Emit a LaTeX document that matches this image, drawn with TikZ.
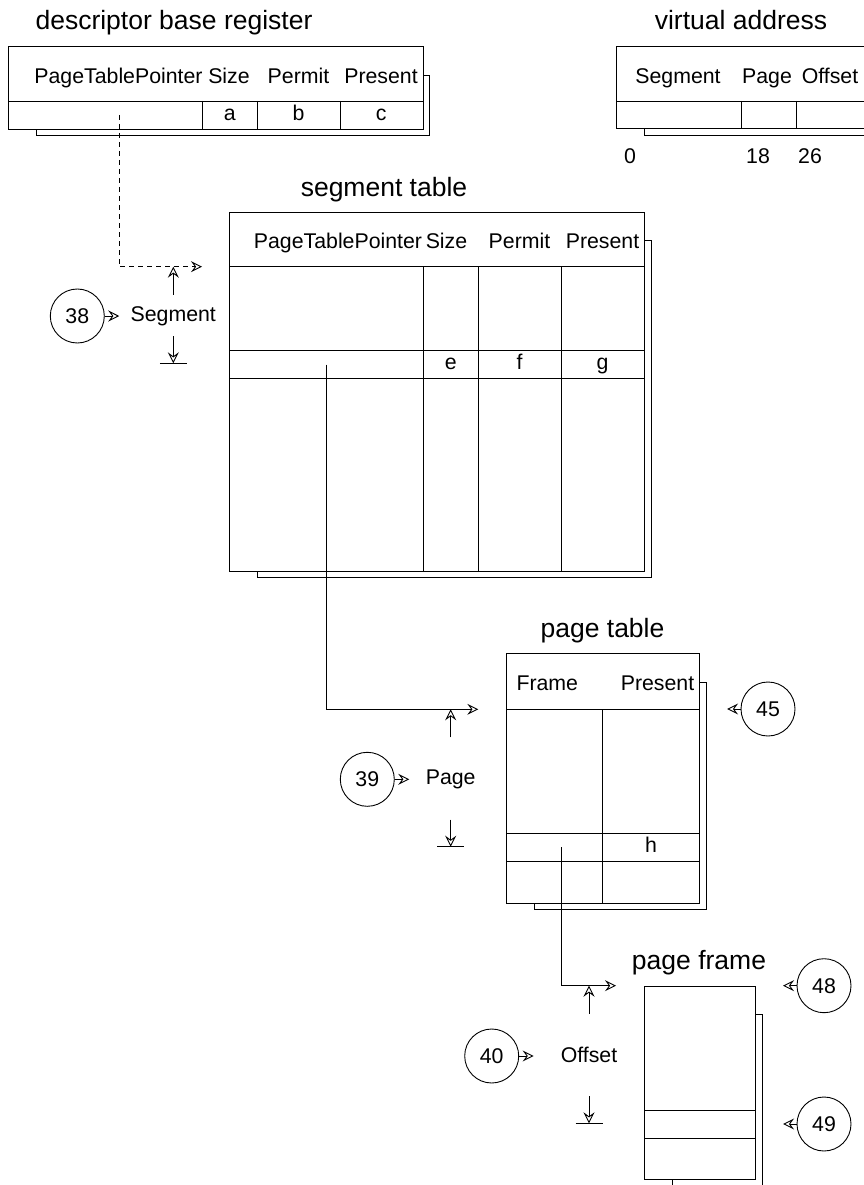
\documentclass[tikz,border=0pt]{standalone}
\usepackage{fontspec}
\setmainfont{Liberation Sans}
\usetikzlibrary{arrows.meta,calc}

\tikzset{
  tbl/.style={draw, fill=white, line width=0.9pt, inner sep=0pt, anchor=north west},
  shade/.style={draw, line width=0.9pt},
  grid/.style={line width=0.9pt},
  cell/.style={inner sep=0pt, font=\fontsize{21.3}{25}\selectfont, text height=15.2pt, text depth=4.5pt},
  title/.style={inner sep=0pt, font=\fontsize{26.5}{31}\selectfont, text height=19.2pt, text depth=5.6pt},
  num/.style={circle, draw, line width=0.9pt, minimum size=54pt, inner sep=0pt, font=\fontsize{21.3}{25}\selectfont},
  ptr/.style={line width=0.9pt, -{Stealth[open,length=11pt,width=11pt,inset=4pt]}},
}

% box with its offset shadow: name, left, top, right, bottom
\newcommand{\recbox}[5]{%
  \draw[shade] (#2+28,#3+29) rectangle (#4+7,#5+7);
  \node[tbl, minimum width=#4pt-#2pt, minimum height=#5pt-#3pt] (#1) at (#2,#3) {};
}

\begin{document}
\begin{tikzpicture}[x=1pt,y=-1pt]
        \useasboundingbox (0,0) rectangle (864,1185);
        \clip (0,0) rectangle (864,1185);

        % descriptor base register
        \node[title] (dbrtitle) at (174,22.5) {descriptor base register};
        \recbox{dbr}{8.3}{46}{422.7}{128.7}
        \draw[grid] (8.3,101) -- (422.7,101);
        \foreach \x in {202.3,257.3,340} \draw[grid] (\x,101) -- (\x,128.7);
        \foreach \x/\txt [count=\i] in {118.5/PageTablePointer, 229/Size, 298.5/Permit, 381/Present}
          \node[cell] (dbrh\i) at (\x,77.8) {\txt};
        \foreach \x/\txt [count=\i] in {229.8/a, 298.6/b, 381.3/c}
          \node[cell] (dbrv\i) at (\x,114.9) {\txt};

        % virtual address
        \node[title] (vatitle) at (741,22.5) {virtual address};
        \recbox{va}{616}{46}{866}{128.3}
        \draw[grid] (616,101) -- (866,101);
        \foreach \x in {741,796.7} \draw[grid] (\x,101) -- (\x,128.3);
        \foreach \x/\txt [count=\i] in {678/Segment, 767/Page, 830/Offset}
          \node[cell] (vah\i) at (\x,77.8) {\txt};
        \foreach \x/\txt [count=\i] in {630/0, 758/18, 810/26}
          \node[cell] (vabit\i) at (\x,158) {\txt};

        % segment table
        \node[title] (segtitle) at (384,190) {segment table};
        \recbox{seg}{229.3}{211.7}{644.3}{570.7}
        \foreach \y in {266.7,350.7,378.3} \draw[grid] (229.3,\y) -- (644.3,\y);
        \foreach \x in {423.3,478.3,561} \draw[grid] (\x,266.7) -- (\x,570.7);
        \foreach \x/\txt [count=\i] in {338/PageTablePointer, 446.5/Size, 519.5/Permit, 602.5/Present}
          \node[cell] (segh\i) at (\x,243.5) {\txt};
        \foreach \x/\txt [count=\i] in {450.8/e, 519.6/f, 602.6/g}
          \node[cell] (segv\i) at (\x,364.5) {\txt};

        % page table
        \node[title] (pttitle) at (602.5,631) {page table};
        \recbox{pt}{506}{653.3}{699.3}{902.7}
        \draw[grid] (506,709) -- (699.3,709);
        \foreach \y in {833.3,861} \draw[grid] (506,\y) -- (699.3,\y);
        \draw[grid] (602.7,709) -- (602.7,902.7);
        \node[cell] (pth1) at (547.3,685) {Frame};
        \node[cell] (pth2) at (657.5,685) {Present};
        \node[cell] (ptv1) at (651,847) {h};

        % page frame
        \node[title] (pftitle) at (699,962.5) {page frame};
        \recbox{pf}{644}{985.7}{755}{1179}
        \foreach \y in {1110.7,1138.3} \draw[grid] (644,\y) -- (755,\y);

        % pointers from entry to next table
        \coordinate (dbrptr) at (119,115);
        \coordinate (segin) at (202,266.7);
        \coordinate (segptr) at (326.7,364.5);
        \coordinate (ptin) at (478.3,709.3);
        \coordinate (ptptr) at (561.5,847);
        \coordinate (pfin) at (616,985.7);
        \draw[ptr, dash pattern=on 5pt off 4pt] (dbrptr) |- (segin);
        \draw[ptr] (segptr) |- (ptin);
        \draw[ptr] (ptptr) |- (pfin);

        % index markers with their labels
        \foreach \x/\ytop/\ymid/\ybot/\txt/\nm in {173.3/266.7/316/363.3/Segment/seg, 450.7/709.3/779.3/846.7/Page/pg, 589/985.7/1056.7/1123.3/Offset/off} {
            \coordinate (\nm top) at (\x,\ytop);
            \coordinate (\nm bot) at (\x,\ybot);
            \node[cell] (\nm lbl) at (\x,\ymid) {\txt};
            \draw[ptr] ($(\nm top)+(0,28)$) -- (\nm top);
            \draw[ptr] ($(\nm bot)+(0,-27)$) -- (\nm bot);
            \draw[grid] ($(\nm bot)+(-13.5,0)$) -- ($(\nm bot)+(13.5,0)$);
          }

        % numbered circles
        \foreach \x/\y/\n in {77.3/316/38, 367.3/779.3/39, 491.7/1056/40}
          {
            \node[num] (c\n) at (\x,\y) {\n};
            \draw[ptr] (c\n.east) -- ++(14.5,0);
          }
        \foreach \x/\y/\n in {768/709/45, 824/985.7/48, 824/1124/49}
          {
            \node[num] (c\n) at (\x,\y) {\n};
            \draw[ptr] (c\n.west) -- ++(-13.5,0);
          }
      \end{tikzpicture}
\end{document}
